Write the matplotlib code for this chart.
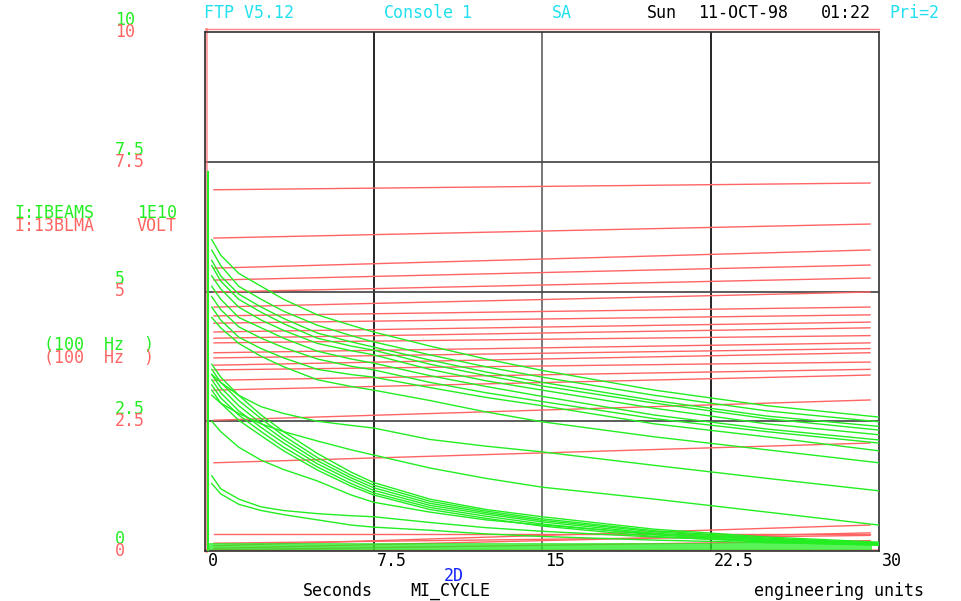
import matplotlib.pyplot as plt

t = [0.3, 0.7, 1.5, 2.5, 3.5, 5, 6.5, 7.5, 10, 12.5, 15, 20, 25, 30]

# upper cluster of beam intensity traces (1E10)
u1 = [6.0, 5.7, 5.35, 5.1, 4.85, 4.55, 4.35, 4.22, 3.95, 3.7, 3.48, 3.1, 2.8, 2.58]
u2 = [5.8, 5.5, 5.1, 4.85, 4.62, 4.35, 4.15, 4.03, 3.78, 3.55, 3.35, 3.0, 2.7, 2.49]
u3 = [5.6, 5.3, 4.95, 4.7, 4.48, 4.2, 4.03, 3.93, 3.68, 3.45, 3.25, 2.9, 2.6, 2.40]
u4 = [5.5, 5.2, 4.85, 4.6, 4.38, 4.1, 3.95, 3.87, 3.6, 3.38, 3.18, 2.85, 2.55, 2.33]
u5 = [5.3, 5.05, 4.7, 4.45, 4.25, 4.0, 3.86, 3.78, 3.5, 3.28, 3.1, 2.75, 2.45, 2.24]
u6 = [5.1, 4.85, 4.5, 4.3, 4.1, 3.85, 3.7, 3.62, 3.38, 3.17, 2.98, 2.62, 2.35, 2.14]
u7 = [4.9, 4.65, 4.32, 4.1, 3.92, 3.7, 3.56, 3.49, 3.25, 3.05, 2.88, 2.55, 2.3, 2.08]
u8 = [4.7, 4.45, 4.12, 3.9, 3.72, 3.5, 3.4, 3.35, 3.15, 2.96, 2.8, 2.45, 2.2, 1.93]
# isolated middle traces
i1 = [4.5, 4.3, 4.0, 3.75, 3.55, 3.3, 3.17, 3.1, 2.9, 2.68, 2.49, 2.2, 1.95, 1.70]
i2 = [3.4, 3.25, 3.0, 2.78, 2.65, 2.5, 2.42, 2.37, 2.15, 2.02, 1.91, 1.65, 1.40, 1.16]
i3 = [3.0, 2.85, 2.65, 2.45, 2.3, 2.12, 1.95, 1.85, 1.6, 1.4, 1.23, 1.0, 0.75, 0.50]
# lower bundle
b1 = [3.6, 3.35, 3.0, 2.62, 2.3, 1.88, 1.52, 1.32, 1.0, 0.8, 0.66, 0.42, 0.27, 0.17]
b2 = [3.5, 3.25, 2.9, 2.55, 2.22, 1.8, 1.46, 1.27, 0.96, 0.77, 0.62, 0.39, 0.25, 0.15]
b3 = [3.4, 3.15, 2.8, 2.46, 2.15, 1.74, 1.41, 1.22, 0.92, 0.74, 0.59, 0.37, 0.23, 0.14]
b4 = [3.3, 3.05, 2.7, 2.38, 2.08, 1.68, 1.36, 1.17, 0.88, 0.71, 0.56, 0.34, 0.21, 0.13]
b5 = [3.2, 2.95, 2.62, 2.3, 2.0, 1.62, 1.3, 1.12, 0.84, 0.67, 0.52, 0.31, 0.19, 0.12]
b6 = [3.1, 2.85, 2.52, 2.22, 1.93, 1.56, 1.25, 1.08, 0.8, 0.63, 0.48, 0.28, 0.17, 0.11]
# low traces
l1 = [2.5, 2.3, 2.0, 1.75, 1.57, 1.35, 1.08, 0.94, 0.75, 0.6, 0.5, 0.33, 0.22, 0.15]
l2 = [1.3, 1.1, 0.9, 0.78, 0.7, 0.6, 0.5, 0.46, 0.4, 0.33, 0.28, 0.21, 0.16, 0.12]
l3 = [1.45, 1.2, 1.0, 0.85, 0.78, 0.72, 0.68, 0.66, 0.55, 0.45, 0.38, 0.27, 0.19, 0.13]
green_traces = [u1, u2, u3, u4, u5, u6, u7, u8, i1, i2, i3,
                b1, b2, b3, b4, b5, b6, l1, l2, l3]

# red I:13BLMA traces (volt): value at start and end of the cycle
red_t = [0.4, 29.6]
red_start = [6.96, 6.03, 5.45, 5.22, 4.99, 4.70, 4.53, 4.39, 4.22, 4.10, 4.01,
             3.82, 3.72, 3.58, 3.49, 3.29, 3.10, 2.52, 1.70, 0.33,
             0.10, 0.05, 0.15, 0.02]
red_end = [7.09, 6.30, 5.80, 5.51, 5.26, 4.99, 4.70, 4.55, 4.41, 4.30, 4.15,
           4.01, 3.90, 3.82, 3.64, 3.50, 3.39, 2.91, 2.08, 0.33,
           0.50, 0.35, 0.30, 0.20]

# noisy baseline band near zero
band_lo, band_hi = 0.02, 0.16

y_ticks = [0, 2.5, 5, 7.5, 10]
y_labels = ['0', '2.5', '5', '7.5', '10']
x_ticks = [0, 7.5, 15, 22.5, 30]
x_labels = ['0', '7.5', '15', '22.5', '30']

GREEN = '#22ee22'
RED = '#ff6464'
CYAN = '#22e0ee'
FONT = 'DejaVu Sans Mono'
W, H = 961, 601

fig = plt.figure(figsize=(W / 100, H / 100), dpi=100)
ax = fig.add_axes([205 / W, 1 - 551 / H, 674 / W, 519 / H])
ax.set_xlim(0, 30)
ax.set_ylim(0, 10)

for gx in x_ticks[1:-1]:
    ax.axvline(gx, color='#606060' if gx == 15 else 'black', lw=1.2, zorder=1)
for gy in y_ticks[1:-1]:
    ax.axhline(gy, color='#404040', lw=1.2, zorder=1)

# red traces
for s, e in zip(red_start, red_end):
    ax.plot(red_t, [s, e], color=RED, lw=1, zorder=2)
ax.plot([0.05, 0.05], [0, 10.05], color=RED, lw=2, alpha=0.6, clip_on=False, zorder=2)
ax.plot([0.05, 30], [10.05, 10.05], color=RED, lw=1, alpha=0.8, clip_on=False, zorder=2)
ax.plot([0, 30], [0.02, 0.02], color=RED, lw=2, alpha=0.6, zorder=2)

# green traces
ax.plot([0.15, 0.15], [0, 7.3], color=GREEN, lw=1.5, zorder=3)
for tr in green_traces:
    ax.plot(t, tr, color=GREEN, lw=1, zorder=3)
ax.fill_between([0.2, 29.7], band_lo, band_hi, color=GREEN, alpha=0.75, lw=0, zorder=3)

ax.set_xticks([])
ax.set_yticks([])
for sp in ax.spines.values():
    sp.set_color('#303030')
    sp.set_linewidth(1.2)


def px(x, y):
    return x / W, 1 - y / H


def label(x, y, s, color='black', **kw):
    fig.text(*px(x, y), s, color=color, fontsize=12, family=FONT, va='center', **kw)


# double y tick labels: green (IBEAMS) above, red (BLMA) below
for v, lab in zip(y_ticks, y_labels):
    yp = 551 - v * 51.9
    label(115, yp - 12, lab, GREEN)
    label(115, yp, lab, RED)

for v, lab in zip(x_ticks, x_labels):
    label(205 + v * 22.47 + 3, 561, lab)

label(14, 213, 'I:IBEAMS', GREEN)
label(137, 213, '1E10', GREEN)
label(14, 226, 'I:13BLMA', RED)
label(137, 226, 'VOLT', RED)
label(44, 345, '(100  Hz  )', GREEN)
label(44, 358, '(100  Hz  )', RED)

label(204, 13, 'FTP V5.12', CYAN)
label(384, 13, 'Console', CYAN)
label(461, 13, '1', CYAN)
label(552, 13, 'SA', CYAN)
label(647, 13, 'Sun', 'black')
label(698, 13, '11-OCT-98', 'black')
label(821, 13, '01:22', 'black')
label(889, 13, 'Pri=2', CYAN)

label(454, 576, '2D', '#1020ff', ha='center')
label(303, 591, 'Seconds')
label(410, 591, 'MI_CYCLE')
label(754, 591, 'engineering units')

fig.savefig('out.png', dpi=100)
